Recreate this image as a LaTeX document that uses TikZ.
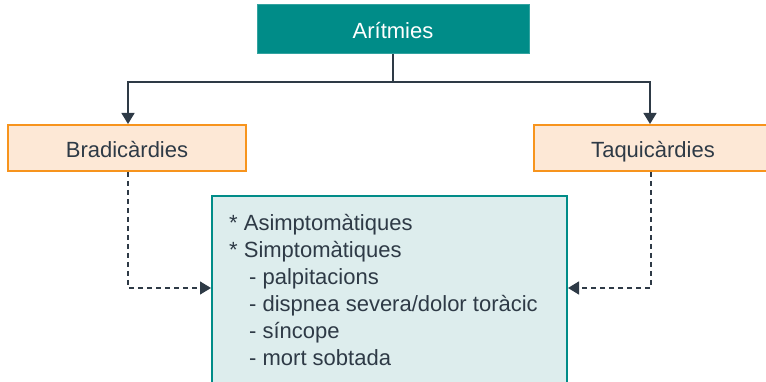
\documentclass[tikz,border=0pt]{standalone}
\usepackage{fontspec}
\setmainfont{Liberation Sans}
\usetikzlibrary{arrows.meta}
\definecolor{teal1}{HTML}{008C88}
\definecolor{tealfill}{HTML}{DDEDED}
\definecolor{orng}{HTML}{F7941D}
\definecolor{orngfill}{HTML}{FDE8D6}
\definecolor{ink}{HTML}{2E3A46}
\begin{document}
\begin{tikzpicture}[x=1pt,y=-1pt,
  topbox/.style={draw=teal1!80!white,fill=teal1,line width=1pt},
  catbox/.style={draw=orng,fill=orngfill,line width=2.5pt},
  infobox/.style={draw=teal1,fill=tealfill,line width=2.5pt},
  lbl/.style={font=\fontsize{22}{26}\selectfont,text height=16pt,text depth=4.5pt,inner sep=0pt},
  conn/.style={draw=ink,line width=1.4pt,-{Triangle[length=11pt,width=13pt]}},
  dconn/.style={draw=ink,line width=1.3pt,dash pattern=on 5pt off 4pt,-{Triangle[length=11pt,width=13pt]}}]
\useasboundingbox (0,0) rectangle (766,382);
\begin{scope}
\clip (0,0) rectangle (766,382);
\path[topbox] (257,5) rectangle (529,54);
\node[lbl,text=white] (top) at (393,33) {Arítmies};
\path[catbox] (8,125) rectangle (246,171);
\node[lbl,text=ink] (brad) at (127,152) {Bradicàrdies};
\path[catbox] (534,125) rectangle (775,171);
\node[lbl,text=ink] (taq) at (653,152) {Taquicàrdies};
\path[infobox] (212,196) rectangle (567,390);
\node[anchor=north west,text=ink,align=left,font=\fontsize{22}{27}\selectfont,inner sep=0pt] (info) at (229,214) {%
* Asimptomàtiques\\
* Simptomàtiques\\
\hspace{20pt}- palpitacions\\
\hspace{20pt}- dispnea severa/dolor toràcic\\
\hspace{20pt}- síncope\\
\hspace{20pt}- mort sobtada};
\coordinate (tb) at (393,54);
\coordinate (j) at (393,82);
\coordinate (bl) at (128,82);
\coordinate (br) at (650,82);
\coordinate (bt) at (128,124);
\coordinate (tt) at (650,124);
\draw[draw=ink,line width=1.4pt] (tb) -- (j);
\draw[conn] (j) -- (bl) -- (bt);
\draw[conn] (j) -- (br) -- (tt);
\coordinate (bs) at (128,172);
\coordinate (bc) at (128,288);
\coordinate (ie) at (211,288);
\coordinate (ts) at (651,172);
\coordinate (tc) at (651,288);
\coordinate (iw) at (568,288);
\draw[dconn] (bs) -- (bc) -- (ie);
\draw[dconn] (ts) -- (tc) -- (iw);
\end{scope}
\end{tikzpicture}
\end{document}
